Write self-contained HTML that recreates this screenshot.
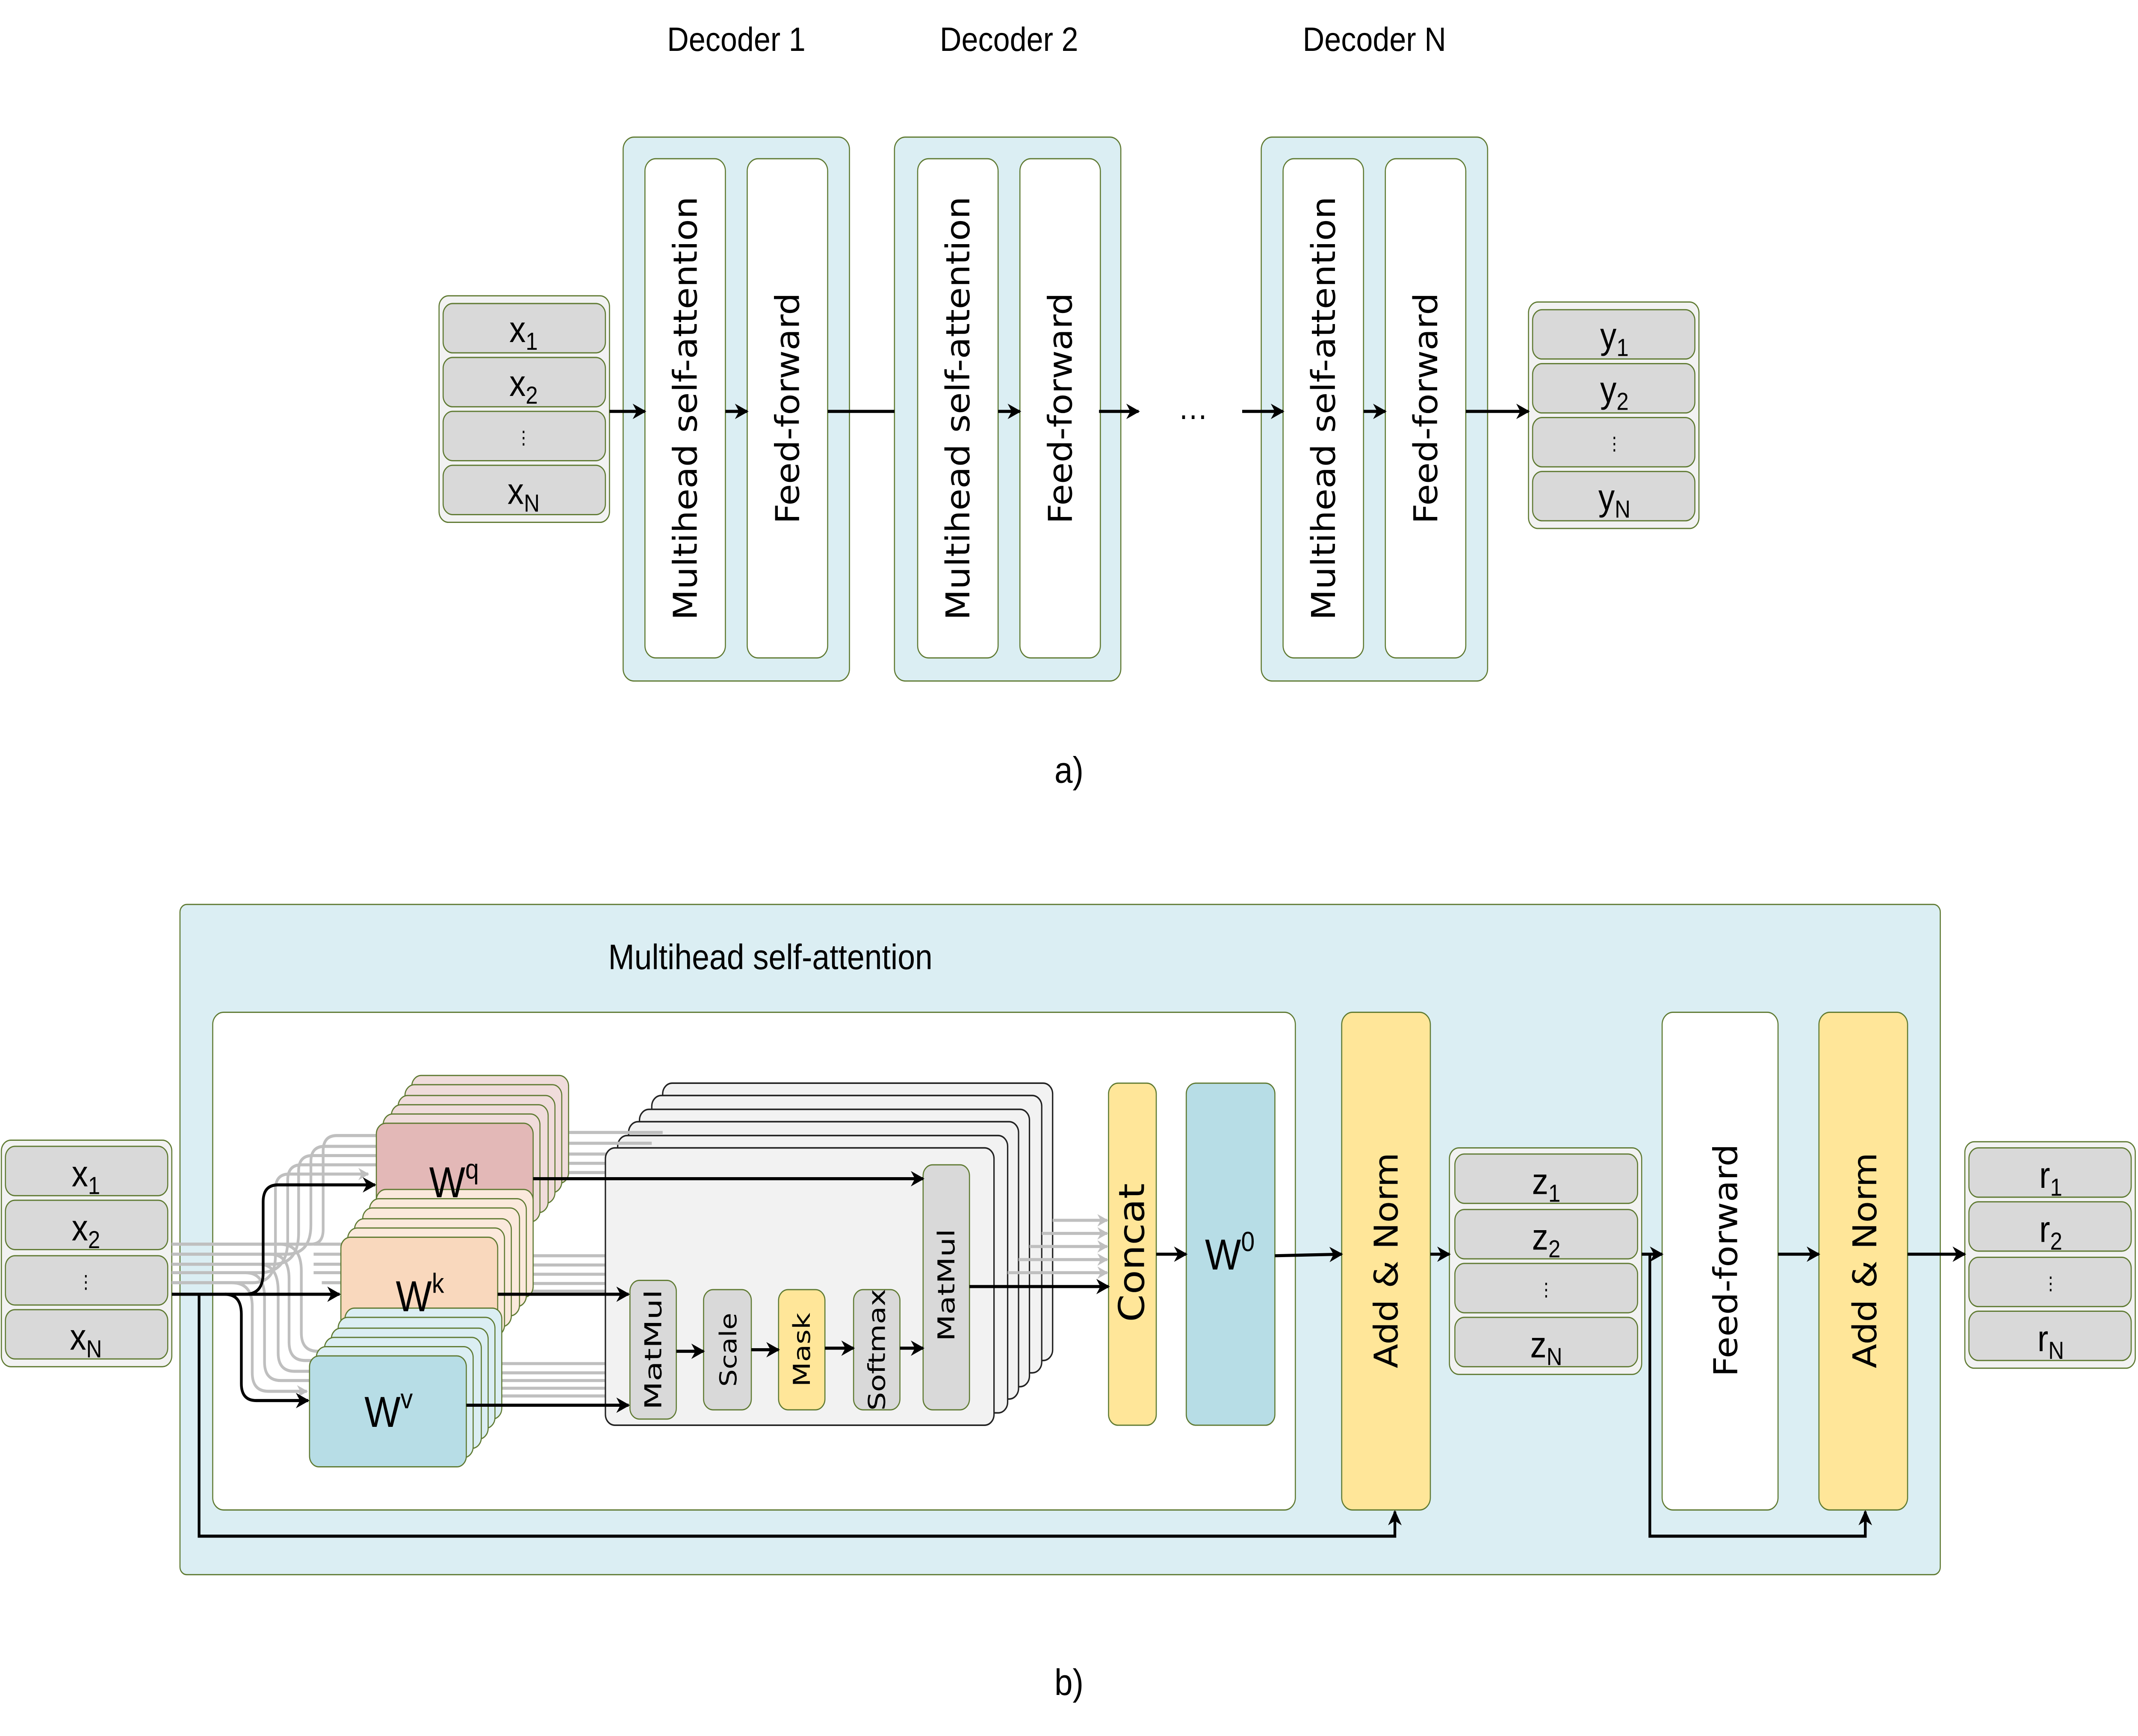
<!DOCTYPE html>
<html><head><meta charset="utf-8"><style>
html,body{margin:0;padding:0;background:#fff;width:100%;height:100%;overflow:hidden;}
svg{display:block;position:absolute;left:0;top:0;width:100vw;height:100vh;}
text{font-family:"Liberation Sans",sans-serif;fill:#000;}
.r{font-family:"DejaVu Sans","Liberation Sans",sans-serif;}
</style></head><body>
<svg viewBox="0 0 1568 1126.7" preserveAspectRatio="none" xmlns="http://www.w3.org/2000/svg">
<defs>
<marker id="a" viewBox="0 0 10 10" refX="9" refY="5" markerWidth="10" markerHeight="10" markerUnits="userSpaceOnUse" orient="auto"><path d="M0,0 L10,5 L0,10 L3,5 z" fill="#000"/></marker>
<marker id="g" viewBox="0 0 10 10" refX="9" refY="5" markerWidth="8" markerHeight="8" markerUnits="userSpaceOnUse" orient="auto"><path d="M0,0 L10,5 L0,10 L3,5 z" fill="#bfbfbf"/></marker>
</defs>
<g stroke="#5f7a32" stroke-width="0.8">
<rect x="322" y="192" width="125" height="147" rx="7" fill="#f2f2f2"/>
<rect x="325" y="197" width="119" height="32" rx="7" fill="#d9d9d9"/>
<rect x="325" y="232" width="119" height="32" rx="7" fill="#d9d9d9"/>
<rect x="325" y="267" width="119" height="32" rx="7" fill="#d9d9d9"/>
<rect x="325" y="302" width="119" height="32" rx="7" fill="#d9d9d9"/>
<rect x="1121" y="196" width="125" height="147" rx="7" fill="#f2f2f2"/>
<rect x="1124" y="201" width="119" height="32" rx="7" fill="#d9d9d9"/>
<rect x="1124" y="236" width="119" height="32" rx="7" fill="#d9d9d9"/>
<rect x="1124" y="271" width="119" height="32" rx="7" fill="#d9d9d9"/>
<rect x="1124" y="306" width="119" height="32" rx="7" fill="#d9d9d9"/>
<rect x="457" y="89" width="166" height="353" rx="8" fill="#dbeef3"/>
<rect x="473" y="103" width="59" height="324" rx="8" fill="#fff"/>
<rect x="548" y="103" width="59" height="324" rx="8" fill="#fff"/>
<rect x="656" y="89" width="166" height="353" rx="8" fill="#dbeef3"/>
<rect x="673" y="103" width="59" height="324" rx="8" fill="#fff"/>
<rect x="748" y="103" width="59" height="324" rx="8" fill="#fff"/>
<rect x="925" y="89" width="166" height="353" rx="8" fill="#dbeef3"/>
<rect x="941" y="103" width="59" height="324" rx="8" fill="#fff"/>
<rect x="1016" y="103" width="59" height="324" rx="8" fill="#fff"/>
</g>
<g stroke="#000" stroke-width="2" fill="none">
<line x1="447" y1="267" x2="473" y2="267" marker-end="url(#a)"/>
<line x1="532" y1="267" x2="548" y2="267" marker-end="url(#a)"/>
<line x1="607" y1="267" x2="656" y2="267"/>
<line x1="732" y1="267" x2="748" y2="267" marker-end="url(#a)"/>
<line x1="806" y1="267" x2="835" y2="267" marker-end="url(#a)"/>
<line x1="911" y1="267" x2="941" y2="267" marker-end="url(#a)"/>
<line x1="1000" y1="267" x2="1016" y2="267" marker-end="url(#a)"/>
<line x1="1075" y1="267" x2="1121" y2="267" marker-end="url(#a)"/>
</g>
<text x="875" y="272" font-size="22" text-anchor="middle">…</text>
<text x="540" y="33" font-size="22" text-anchor="middle">Decoder 1</text>
<text x="740" y="33" font-size="22" text-anchor="middle">Decoder 2</text>
<text x="1008" y="33" font-size="22" text-anchor="middle">Decoder N</text>
<g font-size="24" text-anchor="middle">
<text class="r" transform="translate(503,265) rotate(-90)" dy="8" textLength="275" lengthAdjust="spacingAndGlyphs">Multihead self-attention</text>
<text class="r" transform="translate(578,265) rotate(-90)" dy="8" textLength="150" lengthAdjust="spacingAndGlyphs">Feed-forward</text>
<text class="r" transform="translate(703,265) rotate(-90)" dy="8" textLength="275" lengthAdjust="spacingAndGlyphs">Multihead self-attention</text>
<text class="r" transform="translate(778,265) rotate(-90)" dy="8" textLength="150" lengthAdjust="spacingAndGlyphs">Feed-forward</text>
<text class="r" transform="translate(971,265) rotate(-90)" dy="8" textLength="275" lengthAdjust="spacingAndGlyphs">Multihead self-attention</text>
<text class="r" transform="translate(1046,265) rotate(-90)" dy="8" textLength="150" lengthAdjust="spacingAndGlyphs">Feed-forward</text>
</g>
<g font-size="24" text-anchor="middle">
<text x="384" y="222">x<tspan font-size="16" dy="5">1</tspan></text>
<text x="384" y="257">x<tspan font-size="16" dy="5">2</tspan></text>
<text x="384" y="288" font-size="12" fill="#6a7f3a">⋮</text>
<text x="384" y="327">x<tspan font-size="16" dy="5">N</tspan></text>
<text x="1184" y="226">y<tspan font-size="16" dy="5">1</tspan></text>
<text x="1184" y="261">y<tspan font-size="16" dy="5">2</tspan></text>
<text x="1184" y="292" font-size="12" fill="#6a7f3a">⋮</text>
<text x="1184" y="331">y<tspan font-size="16" dy="5">N</tspan></text>
</g>
<text x="784" y="508" font-size="24" text-anchor="middle">a)</text>

<g stroke="#5f7a32" stroke-width="0.8">
<rect x="132" y="587" width="1291" height="435" rx="5" fill="#dbeef3"/>
<rect x="156" y="657" width="794" height="323" rx="8" fill="#fff"/>
<rect x="1" y="740" width="125" height="147" rx="7" fill="#f2f2f2"/>
<rect x="4" y="744" width="119" height="32" rx="7" fill="#d9d9d9"/>
<rect x="4" y="779" width="119" height="32" rx="7" fill="#d9d9d9"/>
<rect x="4" y="815" width="119" height="32" rx="7" fill="#d9d9d9"/>
<rect x="4" y="850" width="119" height="32" rx="7" fill="#d9d9d9"/>
<rect x="1063" y="745" width="141" height="147" rx="7" fill="#f2f2f2"/>
<rect x="1067" y="749" width="134" height="32" rx="7" fill="#d9d9d9"/>
<rect x="1067" y="785" width="134" height="32" rx="7" fill="#d9d9d9"/>
<rect x="1067" y="820" width="134" height="32" rx="7" fill="#d9d9d9"/>
<rect x="1067" y="855" width="134" height="32" rx="7" fill="#d9d9d9"/>
<rect x="1441" y="741" width="125" height="147" rx="7" fill="#f2f2f2"/>
<rect x="1444" y="745" width="119" height="32" rx="7" fill="#d9d9d9"/>
<rect x="1444" y="780" width="119" height="32" rx="7" fill="#d9d9d9"/>
<rect x="1444" y="816" width="119" height="32" rx="7" fill="#d9d9d9"/>
<rect x="1444" y="851" width="119" height="32" rx="7" fill="#d9d9d9"/>
<rect x="984" y="657" width="65" height="323" rx="8" fill="#ffe699"/>
<rect x="1219" y="657" width="85" height="323" rx="8" fill="#fff"/>
<rect x="1334" y="657" width="65" height="323" rx="8" fill="#ffe699"/>
<rect x="813" y="703" width="35" height="222" rx="7" fill="#ffe699"/>
<rect x="870" y="703" width="65" height="222" rx="7" fill="#b7dde6"/>
</g>
<g stroke="#bfbfbf" stroke-width="2" fill="none">
<path d="M126,807.5 H228 Q237,807.5 237,798 V747 Q237,737 247,737 H276"/>
<path d="M126,814 H210 Q228,814 228,795 V754 Q228,744 238,744 H276"/>
<path d="M126,820.5 H200 Q219,820.5 219,800 V760 Q219,750 229,750 H276"/>
<path d="M126,826 H190 Q211,826 211,805 V766 Q211,756 221,756 H276"/>
<path d="M126,832.5 H185 Q202,832.5 202,815 V772 Q202,762 212,762 H270" marker-end="url(#g)"/>
<path d="M126,807.5 H205 Q221,807.5 221,825 V865 Q221,877 233,877 H240"/>
<path d="M126,814 H198 Q212,814 212,830 V871 Q212,883 224,883 H236"/>
<path d="M126,820.5 H190 Q204,820.5 204,838 V878 Q204,890 216,890 H232"/>
<path d="M126,826 H180 Q194,826 194,842 V884 Q194,896 206,896 H230"/>
<path d="M126,832.5 H170 Q185,832.5 185,848 V891 Q185,903 197,903 H225" marker-end="url(#g)"/>
<path d="M230,807.5 H252 M230,814 H252 M230,820.5 H252 M230,826 H252 M236,832.5 H250"/>
</g>
<g stroke="#222" stroke-width="1" fill="#f2f2f2">
<rect x="486" y="703" width="286" height="180" rx="7"/>
<rect x="478" y="711" width="286" height="180" rx="7"/>
<rect x="469" y="720" width="286" height="180" rx="7"/>
<rect x="461" y="728" width="286" height="180" rx="7"/>
<rect x="453" y="737" width="286" height="180" rx="7"/>
</g>
<g stroke="#bfbfbf" stroke-width="2" fill="none">
<path d="M416,735 H486 M411,742 H478 M406,749 H469 M401,755 H461 M396,761 H453"/>
<path d="M390,815 H444 M385,821 H444 M380,827 H444 M375,833 H444 M370,838 H444"/>
<path d="M368,885 H444 M363,891 H444 M358,896 H444 M353,901 H444 M348,906 H444"/>
</g>
<g stroke="#222" stroke-width="1" fill="#f2f2f2">
<rect x="444" y="745" width="285" height="180" rx="7"/>
</g>
<g stroke="#bfbfbf" stroke-width="2" fill="none">
<line x1="772" y1="792" x2="812" y2="792" marker-end="url(#g)"/>
<line x1="764" y1="800.5" x2="812" y2="800.5" marker-end="url(#g)"/>
<line x1="755" y1="809" x2="812" y2="809" marker-end="url(#g)"/>
<line x1="747" y1="817.5" x2="812" y2="817.5" marker-end="url(#g)"/>
<line x1="739" y1="826" x2="812" y2="826" marker-end="url(#g)"/>
</g>
<g stroke="#5f7a32" stroke-width="0.8">
<g fill="#f0dcdb">
<rect x="302" y="698" width="115" height="70" rx="7"/>
<rect x="297" y="704" width="115" height="70" rx="7"/>
<rect x="292" y="711" width="115" height="70" rx="7"/>
<rect x="287" y="717" width="115" height="70" rx="7"/>
<rect x="281" y="723" width="115" height="70" rx="7"/>
</g>
<rect x="276" y="729" width="115" height="70" rx="7" fill="#e3b8b7"/>
<g fill="#fbe9dc">
<rect x="276" y="772" width="115" height="70" rx="7"/>
<rect x="271" y="778" width="115" height="70" rx="7"/>
<rect x="266" y="784" width="115" height="70" rx="7"/>
<rect x="260" y="791" width="115" height="70" rx="7"/>
<rect x="255" y="797" width="115" height="70" rx="7"/>
</g>
<rect x="250" y="803" width="115" height="70" rx="7" fill="#f9d8bd"/>
<g fill="#dbeef3">
<rect x="253" y="849" width="115" height="72" rx="7"/>
<rect x="248" y="855" width="115" height="72" rx="7"/>
<rect x="243" y="862" width="115" height="72" rx="7"/>
<rect x="238" y="868" width="115" height="72" rx="7"/>
<rect x="232" y="874" width="115" height="72" rx="7"/>
</g>
<rect x="227" y="880" width="115" height="72" rx="7" fill="#b7dde6"/>
<rect x="462" y="831" width="34" height="90" rx="7" fill="#d9d9d9"/>
<rect x="516" y="837" width="35" height="78" rx="7" fill="#d9d9d9"/>
<rect x="571" y="837" width="34" height="78" rx="7" fill="#ffe699"/>
<rect x="626" y="837" width="34" height="78" rx="7" fill="#d9d9d9"/>
<rect x="677" y="756" width="34" height="159" rx="7" fill="#d9d9d9"/>
</g>
<text x="333" y="777" font-size="28" text-anchor="middle">W<tspan font-size="18" dy="-12">q</tspan></text>
<text x="308" y="851" font-size="28" text-anchor="middle">W<tspan font-size="18" dy="-12">k</tspan></text>
<text x="285" y="926" font-size="28" text-anchor="middle">W<tspan font-size="18" dy="-12">v</tspan></text>
<text x="902" y="824" font-size="28" text-anchor="middle">W<tspan font-size="18" dy="-12">0</tspan></text>
<g stroke="#000" stroke-width="2" fill="none">
<path d="M126,840 H249" marker-end="url(#a)"/>
<path d="M180,840 Q193,840 193,826 V780 Q193,769 204,769 H275" marker-end="url(#a)"/>
<path d="M165,840 Q177,840 177,853 V898 Q177,909 188,909 H226" marker-end="url(#a)"/>
<path d="M146,840 V997 H1023 V981" marker-end="url(#a)"/>
<path d="M391,765 H677" marker-end="url(#a)"/>
<path d="M365,840 H461" marker-end="url(#a)"/>
<path d="M342,912 H461" marker-end="url(#a)"/>
<path d="M496,877 H516" marker-end="url(#a)"/>
<path d="M551,876 H571" marker-end="url(#a)"/>
<path d="M605,875 H626" marker-end="url(#a)"/>
<path d="M660,875 H677" marker-end="url(#a)"/>
<path d="M711,835 H813" marker-end="url(#a)"/>
<path d="M848,814 H870" marker-end="url(#a)"/>
<path d="M935,815 L984,814" marker-end="url(#a)"/>
<path d="M1049,814 H1063" marker-end="url(#a)"/>
<path d="M1204,814 H1219" marker-end="url(#a)"/>
<path d="M1210,814 V997 H1368 V981" marker-end="url(#a)"/>
<path d="M1304,814 H1334" marker-end="url(#a)"/>
<path d="M1399,814 H1441" marker-end="url(#a)"/>
</g>
<text x="565" y="629" font-size="23" text-anchor="middle">Multihead self-attention</text>
<g text-anchor="middle">
<text class="r" font-size="17" transform="translate(479,876) rotate(-90)" dy="6" textLength="78" lengthAdjust="spacingAndGlyphs">MatMul</text>
<text class="r" font-size="17" transform="translate(534,876) rotate(-90)" dy="6" textLength="48" lengthAdjust="spacingAndGlyphs">Scale</text>
<text class="r" font-size="17" transform="translate(588,876) rotate(-90)" dy="6" textLength="48" lengthAdjust="spacingAndGlyphs">Mask</text>
<text class="r" font-size="17" transform="translate(643,876) rotate(-90)" dy="6" textLength="79" lengthAdjust="spacingAndGlyphs">Softmax</text>
<text class="r" font-size="17" transform="translate(694,834) rotate(-90)" dy="6" textLength="73" lengthAdjust="spacingAndGlyphs">MatMul</text>
<text class="r" font-size="26" transform="translate(830,813) rotate(-90)" dy="9" textLength="90" lengthAdjust="spacingAndGlyphs">Concat</text>
<text class="r" font-size="24" transform="translate(1017,818) rotate(-90)" dy="8" textLength="140" lengthAdjust="spacingAndGlyphs">Add &amp; Norm</text>
<text class="r" font-size="24" transform="translate(1266,818) rotate(-90)" dy="8" textLength="151" lengthAdjust="spacingAndGlyphs">Feed-forward</text>
<text class="r" font-size="24" transform="translate(1368,818) rotate(-90)" dy="8" textLength="140" lengthAdjust="spacingAndGlyphs">Add &amp; Norm</text>
</g>
<g font-size="24" text-anchor="middle">
<text x="63" y="770">x<tspan font-size="16" dy="5">1</tspan></text>
<text x="63" y="805">x<tspan font-size="16" dy="5">2</tspan></text>
<text x="63" y="836" font-size="12" fill="#6a7f3a">⋮</text>
<text x="63" y="876">x<tspan font-size="16" dy="5">N</tspan></text>
<text x="1134" y="775">z<tspan font-size="16" dy="5">1</tspan></text>
<text x="1134" y="811">z<tspan font-size="16" dy="5">2</tspan></text>
<text x="1134" y="841" font-size="12" fill="#6a7f3a">⋮</text>
<text x="1134" y="881">z<tspan font-size="16" dy="5">N</tspan></text>
<text x="1504" y="771">r<tspan font-size="16" dy="5">1</tspan></text>
<text x="1504" y="806">r<tspan font-size="16" dy="5">2</tspan></text>
<text x="1504" y="837" font-size="12" fill="#6a7f3a">⋮</text>
<text x="1504" y="877">r<tspan font-size="16" dy="5">N</tspan></text>
</g>
<text x="784" y="1100" font-size="24" text-anchor="middle">b)</text>
</svg>
</body></html>
